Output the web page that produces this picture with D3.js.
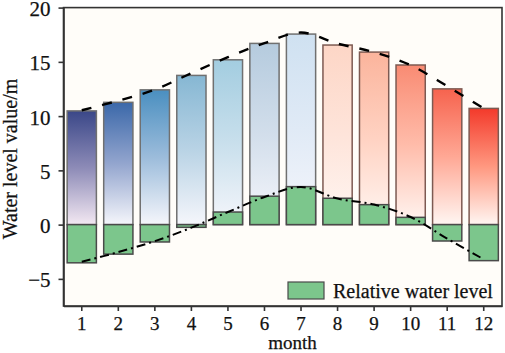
<!DOCTYPE html>
<html>
<head>
<meta charset="utf-8">
<script src="https://cdn.jsdelivr.net/npm/d3@7"></script>
<style>
  html, body { margin: 0; padding: 0; background: #ffffff; }
  svg { display: block; }
  text { font-family: "Liberation Serif", "Times New Roman", serif; fill: #111; stroke: #111; stroke-width: 0.25px; }
</style>
</head>
<body>
<svg id="chart" width="505" height="353"></svg>
<script>
// ---- data ----
const months = [1, 2, 3, 4, 5, 6, 7, 8, 9, 10, 11, 12];
const waterLevel = [10.48, 11.27, 12.42, 13.75, 15.19, 16.7, 17.56, 16.55, 15.9, 14.71, 12.51, 10.71];
const relativeLevel = [-3.52, -2.72, -1.6, -0.25, 1.16, 2.62, 3.5, 2.43, 1.84, 0.67, -1.51, -3.32];
const waterTrend = [10.54, 11.42, 12.44, 13.96, 15.43, 16.73, 17.7, 16.68, 15.89, 14.69, 12.76, 10.71];
const relativeTrend = [-3.43, -2.53, -1.52, -0.28, 1.16, 2.54, 3.47, 2.4, 1.85, 0.7, -1.29, -3.2];
const barTopColors = ["#3a4788", "#3b68a9", "#4a8fc0", "#86b7d3", "#a3cde0", "#b5cbde", "#cfe1f1",
                      "#fdd6c6", "#fbb49c", "#f98b73", "#f6634e", "#f33a2b"];
const yTicks = [-5, 0, 5, 10, 15, 20];
const legendLabel = "Relative water level";
const xTitle = "month";
const yTitle = "Water level value/m";

// ---- layout ----
const svg = d3.select("#chart");
const pLeft = 63.5, pRight = 502, pTop = 7.6, pBottom = 306;

const x = d3.scaleBand().domain(months).range([pLeft, pRight]).paddingInner(0.2).paddingOuter(0.1);
const y = d3.scaleLinear().domain([-7.5, 20]).range([pBottom, pTop]);

// background
svg.append("rect").attr("x", pLeft).attr("y", pTop).attr("width", pRight - pLeft).attr("height", pBottom - pTop)
  .attr("fill", "#fffdf9");

// gradients
const defs = svg.append("defs");
months.forEach((m, i) => {
  const isBlue = i < 7;
  const g = defs.append("linearGradient").attr("id", "grad" + i)
    .attr("x1", 0).attr("y1", 0).attr("x2", 0).attr("y2", 1);
  const bottomCol = isBlue ? (i === 0 ? "#f3e8f2" : "#f5f6fb") : "#fff6f2";
  g.append("stop").attr("offset", 0).attr("stop-color", barTopColors[i]);
  g.append("stop").attr("offset", 0.5).attr("stop-color", d3.interpolateLab(barTopColors[i], bottomCol)(0.45));
  g.append("stop").attr("offset", 1).attr("stop-color", bottomCol);
});

// water level bars
svg.append("g").selectAll("rect").data(months).join("rect")
  .attr("x", d => x(d))
  .attr("y", (d, i) => y(waterLevel[i]))
  .attr("width", x.bandwidth())
  .attr("height", (d, i) => y(0) - y(waterLevel[i]))
  .attr("fill", (d, i) => `url(#grad${i})`)
  .attr("stroke", (d, i) => i < 7 ? "#707070" : "#7d5a52")
  .attr("stroke-width", 1.5);

// relative water level bars
const green = "#7cc68c";
svg.append("g").selectAll("rect").data(months).join("rect")
  .attr("x", d => x(d))
  .attr("y", (d, i) => y(Math.max(0, relativeLevel[i])))
  .attr("width", x.bandwidth())
  .attr("height", (d, i) => Math.abs(y(0) - y(relativeLevel[i])))
  .attr("fill", green)
  .attr("stroke", "#4a4a4a")
  .attr("stroke-width", 1.5);

// trend lines
const cx = d => x(d) + x.bandwidth() / 2;
const trendLine = d3.line().x((d, i) => cx(months[i])).y(d => y(d)).curve(d3.curveCatmullRom);
svg.append("path").datum(waterTrend).attr("d", trendLine)
  .attr("fill", "none").attr("stroke", "#000").attr("stroke-width", 2.4)
  .attr("stroke-dasharray", "10,11");
svg.append("path").datum(relativeTrend).attr("d", trendLine)
  .attr("fill", "none").attr("stroke", "#000").attr("stroke-width", 2)
  .attr("stroke-dasharray", "9,4,2,4");

// frame
svg.append("rect").attr("x", pLeft).attr("y", pTop).attr("width", pRight - pLeft).attr("height", pBottom - pTop)
  .attr("fill", "none").attr("stroke", "#333").attr("stroke-width", 1.6);

// axes
const xAxis = svg.append("g").attr("transform", `translate(0,${pBottom})`)
  .call(d3.axisBottom(x).tickSize(5).tickPadding(6).tickSizeOuter(0));
const yAxis = svg.append("g").attr("transform", `translate(${pLeft},0)`)
  .call(d3.axisLeft(y).tickValues(yTicks).tickSize(5).tickPadding(8).tickSizeOuter(0));
[xAxis, yAxis].forEach(a => {
  a.select(".domain").attr("stroke", "#333").attr("stroke-width", 1.6);
  a.selectAll(".tick line").attr("stroke", "#333").attr("stroke-width", 1.6);
  a.selectAll(".tick text").attr("font-family", "Liberation Serif, serif").attr("fill", "#111");
});
xAxis.selectAll(".tick text").attr("font-size", 19);
yAxis.selectAll(".tick text").attr("font-size", 21).attr("dy", "0.38em");

// titles
svg.append("text").attr("x", 292.5).attr("y", 349).attr("text-anchor", "middle")
  .attr("font-size", 19).text(xTitle);
svg.append("text").attr("transform", "translate(17,159) rotate(-90)").attr("text-anchor", "middle")
  .attr("font-size", 20).text(yTitle);

// legend
svg.append("rect").attr("x", 288).attr("y", 282).attr("width", 36).attr("height", 17)
  .attr("fill", green).attr("stroke", "#4a4a4a").attr("stroke-width", 1.2);
svg.append("text").attr("x", 333).attr("y", 297.5).attr("font-size", 20).text(legendLabel);
</script>
</body>
</html>
